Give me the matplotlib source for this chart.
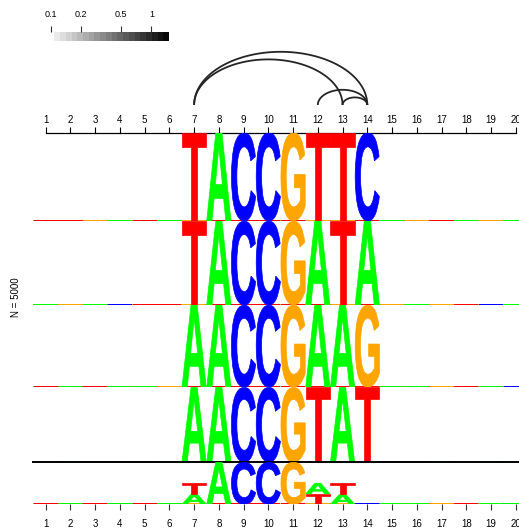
import numpy as np
import matplotlib.pyplot as plt
from matplotlib.textpath import TextPath
from matplotlib.patches import PathPatch
from matplotlib.font_manager import FontProperties
from matplotlib.transforms import Affine2D

plt.rcParams['font.family'] = ['Liberation Sans', 'DejaVu Sans']

# ---- data ----
positions = list(range(1, 21))
bases = ['A', 'C', 'G', 'T']
base_colors = {'A': '#00FF00', 'C': '#0000FF', 'G': '#FFA500', 'T': '#FF0000'}
motif_start = 7
cluster_motifs = ['TACCGTTC', 'TACCGATA', 'AACCGAAG', 'AACCGTAT']
cluster_sizes = [1340, 1275, 1248, 1137]
total_n = 5000
# most frequent base at the unconserved positions 1-6 and 15-20
cluster_noise = ['TTGATA' + 'AGTAGA',
                 'AGACTT' + 'GAGTCA',
                 'TATAAG' + 'AAGTAC',
                 'GATTCA' + 'TCAGAG']
noise_top = 0.27
arc_pairs = [(7, 14), (7, 13), (12, 14), (13, 14)]
arc_values = [1.0, 1.0, 1.0, 1.0]
legend_ticks = [0.1, 0.2, 0.5, 1]
legend_range = (0.108, 1.5)

# ---- frequency matrices ----
def cluster_freqs(motif, noise):
    f = np.zeros((len(positions), 4))
    noise_pos = [p for p in positions if p < motif_start or p >= motif_start + len(motif)]
    for i, p in enumerate(noise_pos):
        f[p - 1, :] = (1 - noise_top) / 3
        f[p - 1, bases.index(noise[i])] = noise_top
    for i, b in enumerate(motif):
        f[motif_start - 1 + i, :] = 0
        f[motif_start - 1 + i, bases.index(b)] = 1.0
    return f

def heights(f):
    with np.errstate(divide='ignore', invalid='ignore'):
        ent = -np.nansum(np.where(f > 0, f * np.log2(f), 0), axis=1)
    info = 2 - ent
    return f * info[:, None]

freqs = [cluster_freqs(m, n) for m, n in zip(cluster_motifs, cluster_noise)]
weights = np.array(cluster_sizes) / sum(cluster_sizes)
combined = sum(w * f for w, f in zip(weights, freqs))

# ---- layout (pixels) ----
W, H = 519, 531
fig = plt.figure(figsize=(W / 100, H / 100), dpi=100)

def px_axes(left, top, right, bottom):
    return fig.add_axes([left / W, 1 - bottom / H, (right - left) / W, (bottom - top) / H])

x_left, x_right = 33.3, 528.1
rows_top, rows_bottom = 132.7, 462.3
bottom_panel = 504.3

font = FontProperties(family='Liberation Sans', weight='bold')
glyphs = {}
for b in bases:
    tp = TextPath((0, 0), b, size=1, prop=font)
    glyphs[b] = (tp, tp.get_extents())

def draw_letter(ax, b, x, y0, h, width=0.98):
    tp, ext = glyphs[b]
    tr = (Affine2D().translate(-ext.x0, -ext.y0)
          .scale(width / ext.width, h / ext.height)
          .translate(x - width / 2, y0))
    lw = 1.1 if h < 0.05 else 0.5
    ax.add_patch(PathPatch(tr.transform_path(tp), facecolor=base_colors[b],
                           edgecolor=base_colors[b], lw=lw, zorder=3))

def draw_logo(ax, f):
    hts = heights(f)
    for i, p in enumerate(positions):
        order = np.argsort(hts[i])
        y = 0
        for k in order:
            draw_letter(ax, bases[k], p, y, hts[i, k])
            y += hts[i, k]

def clean(ax):
    ax.set_xlim(0.5, 20.5)
    ax.set_ylim(0, 2)
    for s in ax.spines.values():
        s.set_visible(False)
    ax.set_xticks([])
    ax.set_yticks([])
    ax.patch.set_alpha(0)

# cluster rows
edges = rows_top + np.concatenate([[0], np.cumsum(weights)]) * (rows_bottom - rows_top)
row_axes = []
for k, f in enumerate(freqs):
    ax = px_axes(x_left, edges[k], x_right, edges[k + 1])
    clean(ax)
    draw_logo(ax, f)
    row_axes.append(ax)

top_ax = row_axes[0]
top_ax.spines['top'].set_visible(True)
top_ax.spines['top'].set_bounds(1, 20)
top_ax.spines['top'].set_linewidth(0.9)
top_ax.xaxis.set_ticks_position('top')
top_ax.set_xticks(positions)
top_ax.set_xticklabels([str(p) for p in positions])
top_ax.tick_params(axis='x', direction='out', length=4.3, width=0.8, pad=1.5, labelsize=7)

# combined panel
bax = px_axes(x_left, rows_bottom, x_right, bottom_panel)
clean(bax)
draw_logo(bax, combined)
bax.spines['top'].set_visible(True)
bax.spines['top'].set_linewidth(1.4)
bax.set_xticks(positions)
bax.set_xticklabels([str(p) for p in positions])
bax.tick_params(axis='x', direction='out', length=4.3, width=0.8, pad=6, labelsize=7,
                color='#333333')

# grey scale legend
def grey_of(v):
    lo, hi = np.log10(legend_range[0]), np.log10(legend_range[1])
    t = np.clip((np.log10(v) - lo) / (hi - lo), 0, 1)
    g = 0.94 * (1 - t)
    return (g, g, g)

lax = px_axes(51, 32.3, 169, 41.3)
lax.set_xscale('log')
lax.set_xlim(0.1, legend_range[1])
lax.set_ylim(0, 1)
steps = np.logspace(np.log10(legend_range[0]), np.log10(legend_range[1]), 21)
for a, b in zip(steps[:-1], steps[1:]):
    lax.axvspan(a, b, color=grey_of(np.sqrt(a * b)), lw=0)
for s in lax.spines.values():
    s.set_visible(False)
lax.set_yticks([])
lax.xaxis.set_ticks_position('top')
lax.set_xticks(legend_ticks)
lax.set_xticklabels([str(t) for t in legend_ticks])
lax.minorticks_off()
lax.tick_params(axis='x', direction='out', length=4, width=0.8, pad=5.5, labelsize=6.5,
                color='#333333')

# arcs of the paired positions
aax = px_axes(x_left, 40, x_right, 105)
aax.set_xlim(0.5, 20.5)
aax.set_ylim(0, 65)
aax.axis('off')
theta = np.linspace(0, np.pi, 100)
for (i, j), v in zip(arc_pairs, arc_values):
    span = j - i
    aax.plot((i + j) / 2 + span / 2 * np.cos(theta), 7.6 * span * np.sin(theta),
             color=grey_of(v), lw=1.3, solid_capstyle='round')

fig.text(16 / W, 1 - (rows_top + rows_bottom) / 2 / H, 'N = %d' % total_n,
         rotation=90, ha='center', va='center', fontsize=7)

plt.savefig('out.png', dpi=100)
